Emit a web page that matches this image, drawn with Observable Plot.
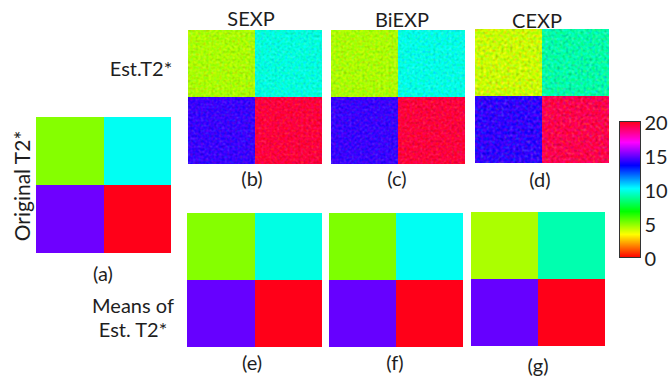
<!DOCTYPE html>
<html>
<head>
<meta charset="utf-8">
<script src="https://cdn.jsdelivr.net/npm/d3@7"></script>
<script src="https://cdn.jsdelivr.net/npm/@observablehq/plot@0.6"></script>
<style>
  html, body { margin: 0; padding: 0; background: #fff; }
  #root { position: relative; width: 671px; height: 376px; overflow: hidden; font-family: Lato, "Open Sans", sans-serif; color: #1e1e1e; }
  .lbl { position: absolute; font-size: 20px; line-height: 1; white-space: nowrap; transform: translate(-50%, -50%); }
  .panel { position: absolute; }
  .panel svg { display: block; }
</style>
</head>
<body>
<svg width="0" height="0" style="position:absolute">
  <defs>
    <filter id="noise1" x="0" y="0" width="100%" height="100%" color-interpolation-filters="sRGB">
      <feTurbulence type="fractalNoise" baseFrequency="0.38" numOctaves="1" seed="3" result="t"/>
      <feColorMatrix in="t" type="matrix" values="1 0 0 0 0  0 1 0 0 0  0 0 1 0 0  0 0 0 0 1" result="t2"/>
      <feComposite in="SourceGraphic" in2="t2" operator="arithmetic" k1="0" k2="1" k3="0.45" k4="-0.225"/>
    </filter>
    <filter id="noise2" x="0" y="0" width="100%" height="100%" color-interpolation-filters="sRGB">
      <feTurbulence type="fractalNoise" baseFrequency="0.38" numOctaves="1" seed="11" result="t"/>
      <feColorMatrix in="t" type="matrix" values="1 0 0 0 0  0 1 0 0 0  0 0 1 0 0  0 0 0 0 1" result="t2"/>
      <feComposite in="SourceGraphic" in2="t2" operator="arithmetic" k1="0" k2="1" k3="0.45" k4="-0.225"/>
    </filter>
    <filter id="noise3" x="0" y="0" width="100%" height="100%" color-interpolation-filters="sRGB">
      <feTurbulence type="fractalNoise" baseFrequency="0.34" numOctaves="1" seed="27" result="t"/>
      <feColorMatrix in="t" type="matrix" values="1 0 0 0 0  0 1 0 0 0  0 0 1 0 0  0 0 0 0 1" result="t2"/>
      <feComposite in="SourceGraphic" in2="t2" operator="arithmetic" k1="0" k2="1" k3="0.6" k4="-0.3"/>
    </filter>
  </defs>
</svg>
<div id="root"></div>
<script>
// ---- data (T2* values, ms) : order = top-left, top-right, bottom-left, bottom-right
const cols = ["left", "right"];
const rows = ["top", "bottom"];
const originalT2 = [5, 10, 15, 20];
const estSEXP  = [4.5, 9.7, 14.3, 19.5];
const estBiEXP = [4.5, 9.8, 14.3, 19.5];
const estCEXP  = [4.1, 9.0, 14.2, 19.3];
const meanSEXP  = [5.0, 9.8, 14.9, 20];
const meanBiEXP = [5.1, 10.0, 14.9, 20];
const meanCEXP  = [4.5, 9.1, 14.9, 20];
const colorTicks = [0, 5, 10, 15, 20];
const colorDomain = [0, 20];

// MATLAB-like hsv colormap
const color = {
  type: "linear",
  domain: colorDomain,
  clamp: true,
  interpolate: t => d3.hsl(t * 354.4, 1, 0.5).formatHex()
};

const root = document.getElementById("root");

function toCells(values) {
  return values.map((v, i) => ({ col: cols[i % 2], row: rows[Math.floor(i / 2)], v }));
}

function panel(values, left, top, w, h, filter) {
  const svg = Plot.plot({
    width: w, height: h, margin: 0,
    x: { type: "band", domain: cols, padding: 0, axis: null, round: false },
    y: { type: "band", domain: rows, padding: 0, axis: null, round: false },
    color,
    marks: [Plot.cell(toCells(values), { x: "col", y: "row", fill: "v", shapeRendering: "crispEdges" })]
  });
  const div = document.createElement("div");
  div.className = "panel";
  div.style.left = left + "px";
  div.style.top = top + "px";
  if (filter) svg.style.filter = `url(#${filter})`;
  div.appendChild(svg);
  root.appendChild(div);
}

function label(text, x, y, extra, html) {
  const d = document.createElement("div");
  d.className = "lbl";
  if (html) d.innerHTML = text; else d.textContent = text;
  d.style.left = x + "px";
  d.style.top = y + "px";
  if (extra) Object.assign(d.style, extra);
  root.appendChild(d);
  return d;
}

// panels
panel(originalT2, 36, 117, 135, 136);
panel(estSEXP, 188, 30, 134, 134, "noise1");
panel(estBiEXP, 331, 30, 134, 134, "noise2");
panel(estCEXP, 475, 29, 134, 134, "noise3");
panel(meanSEXP, 187, 213, 135, 134);
panel(meanBiEXP, 329, 213, 134, 134);
panel(meanCEXP, 471, 212, 134, 134);

// colorbar
const cb = Plot.plot({
  width: 52, height: 156,
  marginTop: 10, marginBottom: 10, marginLeft: 0, marginRight: 31,
  x: { domain: [0, 1], axis: null },
  y: { domain: colorDomain, axis: null },
  color,
  style: { fontFamily: "Lato, sans-serif", fontSize: "20px", color: "#1e1e1e", overflow: "visible" },
  marks: [
    Plot.raster({ x1: 0, x2: 1, y1: colorDomain[0], y2: colorDomain[1], width: 1, height: 256, fill: (x, y) => y, imageRendering: "auto" }),
    Plot.frame({ stroke: "#333", strokeWidth: 1 }),
    Plot.axisY({ anchor: "right", ticks: colorTicks, tickSize: 0, tickPadding: 4, fontSize: 20, dy: 2, tickFormat: d => String(d) })
  ]
});
const cbDiv = document.createElement("div");
cbDiv.className = "panel";
cbDiv.style.left = "619px";
cbDiv.style.top = "111px";
cbDiv.appendChild(cb);
root.appendChild(cbDiv);

// text labels
label("SEXP", 251, 18);
label("BiEXP", 402, 19);
label("CEXP", 537, 20);
label("Est.T2*", 141, 68);
label("(b)", 252, 178);
label("(c)", 397, 178);
label("(d)", 540, 179);
label("(a)", 103, 273);
label("(e)", 252, 362);
label("(f)", 395, 362);
label("(g)", 538, 365);
label("Original T2*", 21, 186, { transform: "translate(-50%, -50%) rotate(-90deg)", fontSize: "21px" });
label("Means of<br>Est. T2*", 133, 317, { fontSize: "20px", lineHeight: "24px", textAlign: "center" }, true);
</script>
</body>
</html>
